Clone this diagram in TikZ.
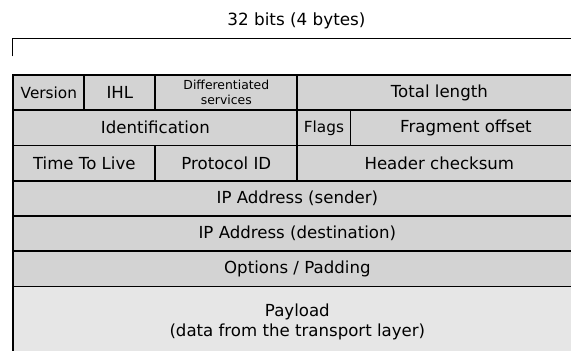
\documentclass[tikz,border=0pt]{standalone}
\usepackage{fontspec}
\setmainfont{DejaVu Sans}
\definecolor{hdrgray}{HTML}{D3D3D3}
\definecolor{paygray}{HTML}{E6E6E6}
\def\bitw{17.75pt}
\def\rowh{35.3pt}
\tikzset{
	field/.style={draw, fill=hdrgray, line width=1.7pt, anchor=north west, inner sep=0pt,
		minimum height=\rowh, align=center, font=\fontsize{16.6}{20}\selectfont},
	smalltext/.style={font=\fontsize{12.4}{15.5}\selectfont},
	tighttext/.style={font=\fontsize{15.3}{18}\selectfont},
}
\begin{document}
\begin{tikzpicture}[x=17.75pt, y=35.3pt]
	\useasboundingbox (-0.704,2.096) rectangle (31.465,-7.847);
	\clip (-0.704,2.096) rectangle (31.465,-7.847);

	\node[font=\fontsize{16.8}{20}\selectfont] (title) at (16,1.5) {32 bits (4 bytes)};
	\coordinate (bl) at (0,0.5);
	\coordinate (tl) at (0,1);
	\coordinate (tr) at (32,1);
	\coordinate (br) at (32,0.5);
	\draw[line width=1.4pt] (bl) -- (tl) -- (tr) -- (br);

	\node[field, tighttext, minimum width=4*\bitw] (ver) at (0,0) {Version};
	\node[field, minimum width=4*\bitw] (ihl) at (4,0) {IHL};
	\node[field, smalltext, minimum width=8*\bitw] (dsf) at (8,0) {Differentiated\\services};
	\node[field, minimum width=16*\bitw] (len) at (16,0) {Total length};

	\node[field, minimum width=16*\bitw] (ident) at (0,-1) {Identification};
	\node[field, tighttext, minimum width=3*\bitw] (flags) at (16,-1) {Flags};
	\node[field, minimum width=13*\bitw] (frag) at (19,-1) {Fragment offset};

	\node[field, minimum width=8*\bitw] (ttl) at (0,-2) {Time To Live};
	\node[field, minimum width=8*\bitw] (proto) at (8,-2) {Protocol ID};
	\node[field, minimum width=16*\bitw] (chk) at (16,-2) {Header checksum};

	\node[field, minimum width=32*\bitw] (src) at (0,-3) {IP Address (sender)};
	\node[field, minimum width=32*\bitw] (dst) at (0,-4) {IP Address (destination)};
	\node[field, minimum width=32*\bitw] (opt) at (0,-5) {Options / Padding};
	\node[field, fill=paygray, minimum width=32*\bitw, minimum height=2*\rowh] (data) at (0,-6)
		{Payload\\(data from the transport layer)};
\end{tikzpicture}
\end{document}
